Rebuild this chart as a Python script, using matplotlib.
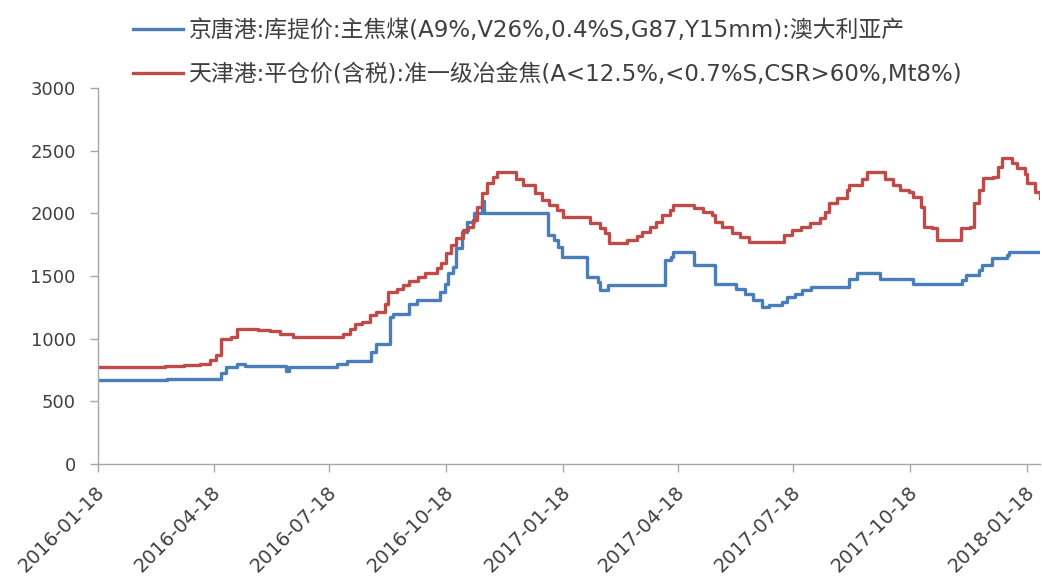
import numpy as np
import pandas as pd
import matplotlib
matplotlib.use("Agg")
import matplotlib.pyplot as plt
from matplotlib.transforms import ScaledTranslation

plt.rcParams['font.family'] = ['DejaVu Sans', 'Noto Sans CJK SC']

# 京唐港 主焦煤 库提价 (change points, step series)
coal_dates = ["2016-01-18", "2016-03-12", "2016-04-24", "2016-04-28", "2016-05-06", "2016-05-13",
              "2016-06-14", "2016-06-16", "2016-07-24", "2016-08-01", "2016-08-20", "2016-08-24",
              "2016-09-04", "2016-09-06", "2016-09-19", "2016-09-25", "2016-10-13", "2016-10-17",
              "2016-10-19", "2016-10-23", "2016-10-26", "2016-10-30", "2016-11-03", "2016-11-09",
              "2016-11-15", "2016-11-17", "2017-01-06", "2017-01-11", "2017-01-14", "2017-01-17",
              "2017-02-06", "2017-02-14", "2017-02-16", "2017-02-22", "2017-04-08", "2017-04-13",
              "2017-04-14", "2017-05-01", "2017-05-17", "2017-06-03", "2017-06-10", "2017-06-16",
              "2017-06-23", "2017-06-29", "2017-07-09", "2017-07-13", "2017-07-19", "2017-07-25",
              "2017-08-01", "2017-08-31", "2017-09-06", "2017-09-24", "2017-10-20", "2017-11-28",
              "2017-12-01", "2017-12-11", "2017-12-13", "2017-12-21", "2018-01-02", "2018-01-04",
              "2018-01-28"]
coal_price = [670, 680, 730, 770, 800, 780,
              740, 770, 800, 820, 890, 960,
              1170, 1200, 1280, 1310, 1370, 1440,
              1520, 1570, 1720, 1850, 1930, 2000,
              2100, 2000, 1830, 1790, 1730, 1650,
              1490, 1450, 1390, 1430, 1630, 1650,
              1690, 1590, 1440, 1400, 1360, 1310,
              1250, 1270, 1290, 1330, 1360, 1390,
              1410, 1480, 1520, 1480, 1440, 1470,
              1510, 1550, 1590, 1640, 1670, 1690,
              1690]

# 天津港 准一级冶金焦 平仓价(含税)
coke_dates = ["2016-01-18", "2016-03-11", "2016-03-26", "2016-04-07", "2016-04-15", "2016-04-20",
              "2016-04-24", "2016-05-02", "2016-05-06", "2016-05-23", "2016-06-01", "2016-06-09",
              "2016-06-19", "2016-07-29", "2016-08-03", "2016-08-07", "2016-08-13", "2016-08-19",
              "2016-08-24", "2016-08-31", "2016-09-02", "2016-09-09", "2016-09-14", "2016-09-19",
              "2016-09-26", "2016-10-01", "2016-10-11", "2016-10-14", "2016-10-18", "2016-10-22",
              "2016-10-26", "2016-10-31", "2016-11-04", "2016-11-08", "2016-11-11", "2016-11-15",
              "2016-11-19", "2016-11-24", "2016-11-27", "2016-12-12", "2016-12-17", "2016-12-27",
              "2017-01-01", "2017-01-07", "2017-01-13", "2017-01-18", "2017-02-08", "2017-02-16",
              "2017-02-20", "2017-02-23", "2017-03-09", "2017-03-17", "2017-03-21", "2017-03-27",
              "2017-04-01", "2017-04-06", "2017-04-12", "2017-04-14", "2017-05-01", "2017-05-08",
              "2017-05-15", "2017-05-17", "2017-05-23", "2017-05-31", "2017-06-06", "2017-06-13",
              "2017-07-11", "2017-07-17", "2017-07-24", "2017-07-31", "2017-08-08", "2017-08-12",
              "2017-08-15", "2017-08-21", "2017-08-29", "2017-08-31", "2017-09-10", "2017-09-14",
              "2017-09-28", "2017-10-04", "2017-10-10", "2017-10-17", "2017-10-20", "2017-10-26",
              "2017-10-29", "2017-11-04", "2017-11-08", "2017-11-27", "2017-12-04", "2017-12-07",
              "2017-12-11", "2017-12-14", "2017-12-22", "2017-12-26", "2017-12-29", "2018-01-06",
              "2018-01-10", "2018-01-16", "2018-01-18", "2018-01-24", "2018-01-28"]
coke_price = [770, 780, 790, 800, 830, 870,
              1000, 1010, 1080, 1070, 1060, 1040,
              1010, 1040, 1080, 1120, 1130, 1190,
              1210, 1280, 1370, 1400, 1430, 1460,
              1490, 1520, 1560, 1600, 1680, 1750,
              1800, 1870, 1890, 1950, 2050, 2160,
              2240, 2290, 2330, 2270, 2230, 2160,
              2110, 2070, 2030, 1970, 1920, 1880,
              1840, 1760, 1790, 1820, 1850, 1890,
              1930, 1990, 2030, 2070, 2040, 2010,
              1990, 1930, 1890, 1840, 1810, 1770,
              1830, 1870, 1890, 1920, 1960, 2010,
              2080, 2120, 2190, 2230, 2270, 2330,
              2270, 2230, 2190, 2170, 2130, 2050,
              1890, 1880, 1790, 1880, 1890, 2080,
              2190, 2280, 2290, 2370, 2440, 2400,
              2360, 2310, 2240, 2170, 2120]

tick_labels = ["2016-01-18", "2016-04-18", "2016-07-18", "2016-10-18", "2017-01-18",
               "2017-04-18", "2017-07-18", "2017-10-18", "2018-01-18"]

label_coal = "京唐港:库提价:主焦煤(A9%,V26%,0.4%S,G87,Y15mm):澳大利亚产"
label_coke = "天津港:平仓价(含税):准一级冶金焦(A<12.5%,<0.7%S,CSR>60%,Mt8%)"

fig = plt.figure(figsize=(10.42, 5.79), dpi=100)
ax = fig.add_axes([98 / 1042, 1 - 464 / 579, (1040 - 98) / 1042, (464 - 88) / 579])

l1, = ax.plot(pd.to_datetime(coal_dates), coal_price, drawstyle='steps-post',
              color='#4A7EBB', lw=2.4)
l2, = ax.plot(pd.to_datetime(coke_dates), coke_price, drawstyle='steps-post',
              color='#BE4B48', lw=2.4)

ax.set_ylim(0, 3000)
ax.set_yticks(np.arange(0, 3001, 500))
ax.set_xlim(pd.Timestamp("2016-01-18"), pd.Timestamp("2018-01-28"))
ax.set_xticks(pd.to_datetime(tick_labels))
ax.set_xticklabels(tick_labels, rotation=45, ha='right', va='center',
                   rotation_mode='anchor')

for side in ['top', 'right']:
    ax.spines[side].set_visible(False)
for side in ['left', 'bottom']:
    ax.spines[side].set_color('#A6A6A6')
    ax.spines[side].set_linewidth(1.0)
ax.tick_params(axis='both', colors='#A6A6A6', length=6, width=1.0,
               labelcolor='#404040')
ax.tick_params(axis='y', pad=10, labelsize=13)
ax.tick_params(axis='x', pad=12, labelsize=14)
# nudge the rotated date labels a little to the right
shift = ScaledTranslation(4 / 100, 0, fig.dpi_scale_trans)
for t in ax.get_xticklabels():
    t.set_transform(t.get_transform() + shift)

fig.legend([l1, l2], [label_coal, label_coke], loc='upper left',
           bbox_to_anchor=(133 / 1042, 1 - 19 / 579), frameon=False,
           fontsize=16.5, handlelength=2.2, handletextpad=0.22,
           labelspacing=0.93, borderpad=0, borderaxespad=0,
           labelcolor='#404040')

fig.savefig("out.png", dpi=100)
